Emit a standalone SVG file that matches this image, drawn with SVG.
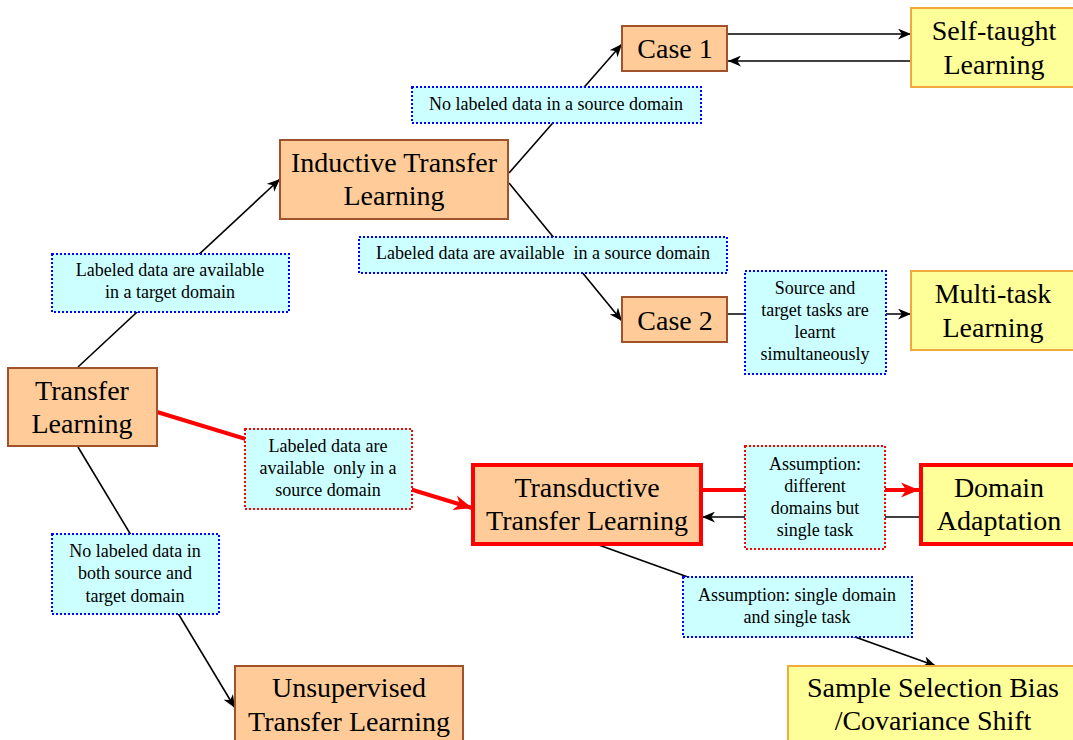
<svg xmlns="http://www.w3.org/2000/svg" width="1073" height="740" viewBox="0 0 1073 740">
<defs>
<marker id="ab" viewBox="0 0 12 10" refX="12" refY="5" markerWidth="13" markerHeight="11" markerUnits="userSpaceOnUse" orient="auto">
<path d="M0,0 L12,5 L0,10 L3.5,5 z" fill="#000"/>
</marker>
<marker id="ar" viewBox="0 0 12 10" refX="12" refY="5" markerWidth="18" markerHeight="16" markerUnits="userSpaceOnUse" orient="auto">
<path d="M0,0 L12,5 L0,10 L3.5,5 z" fill="#f00"/>
</marker>
<style>
.on{fill:#FFCC99;stroke:#A0522D;stroke-width:2}
.ye{fill:#FFFF99;stroke:#F2A93B;stroke-width:2}
.rn{stroke:#f00;stroke-width:4}
.lb{fill:#CCFFFF;stroke:#0000FF;stroke-width:2;stroke-dasharray:2 2}
.lr{fill:#CCFFFF;stroke:#FF0000;stroke-width:2;stroke-dasharray:2 2}
.nt{font-family:"Liberation Serif","Times New Roman",serif;font-size:28px;fill:#000;text-anchor:middle}
.lt{font-family:"Liberation Serif","Times New Roman",serif;font-size:18px;fill:#000;text-anchor:middle}
.cb{stroke:#000;stroke-width:1.6;fill:none}
.cr{stroke:#f00;stroke-width:4;fill:none}
</style>
</defs>
<g id="connectors">
<line class="cb" x1="78" y1="367" x2="280" y2="179" marker-end="url(#ab)"/>
<line class="cb" x1="509" y1="173" x2="622" y2="44" marker-end="url(#ab)"/>
<line class="cb" x1="509" y1="183" x2="622" y2="321" marker-end="url(#ab)"/>
<line class="cb" x1="728" y1="34" x2="911" y2="34" marker-end="url(#ab)"/>
<line class="cb" x1="911" y1="61" x2="728" y2="61" marker-end="url(#ab)"/>
<line class="cb" x1="727" y1="314" x2="911" y2="314" marker-end="url(#ab)"/>
<line class="cr" x1="157" y1="412" x2="472" y2="508" marker-end="url(#ar)"/>
<line class="cr" x1="701" y1="490" x2="919" y2="490" marker-end="url(#ar)"/>
<line class="cb" x1="920" y1="517" x2="702" y2="517" marker-end="url(#ab)"/>
<line class="cb" x1="596" y1="544" x2="936" y2="666" marker-end="url(#ab)"/>
<line class="cb" x1="78" y1="447" x2="235" y2="708" marker-end="url(#ab)"/>
</g>
<g id="transfer-learning">
<rect class="on" x="8" y="368" width="149" height="78"/>
<text class="nt" x="82" y="400">Transfer</text>
<text class="nt" x="82" y="433">Learning</text>
</g>
<g id="inductive">
<rect class="on" x="280" y="140" width="228" height="79"/>
<text class="nt" x="394" y="172">Inductive Transfer</text>
<text class="nt" x="394" y="205">Learning</text>
</g>
<g id="case1">
<rect class="on" x="622" y="26" width="105" height="45"/>
<text class="nt" x="675" y="58">Case 1</text>
</g>
<g id="self-taught">
<rect class="ye" x="911" y="8" width="170" height="79"/>
<text class="nt" x="994" y="40">Self-taught</text>
<text class="nt" x="994" y="74">Learning</text>
</g>
<g id="case2">
<rect class="on" x="622" y="297" width="105" height="45"/>
<text class="nt" x="675" y="330">Case 2</text>
</g>
<g id="multi-task">
<rect class="ye" x="911" y="271" width="170" height="79"/>
<text class="nt" x="993" y="303">Multi-task</text>
<text class="nt" x="993" y="337">Learning</text>
</g>
<g id="transductive">
<rect class="on rn" x="473" y="465" width="228" height="79" style="stroke:#f00;stroke-width:4"/>
<text class="nt" x="587" y="497">Transductive</text>
<text class="nt" x="587" y="530">Transfer Learning</text>
</g>
<g id="domain-adaptation">
<rect class="ye" x="921" y="465" width="160" height="79" style="stroke:#f00;stroke-width:4"/>
<text class="nt" x="999" y="497">Domain</text>
<text class="nt" x="999" y="530">Adaptation</text>
</g>
<g id="unsupervised">
<rect class="on" x="235" y="666" width="228" height="90"/>
<text class="nt" x="349" y="697">Unsupervised</text>
<text class="nt" x="349" y="731">Transfer Learning</text>
</g>
<g id="sample-selection">
<rect class="ye" x="788" y="666" width="300" height="90"/>
<text class="nt" x="933" y="697">Sample Selection Bias</text>
<text class="nt" x="933" y="730">/Covariance Shift</text>
</g>
<g id="label-target">
<rect class="lb" x="52" y="254" width="237" height="58"/>
<text class="lt" x="170" y="276">Labeled data are available</text>
<text class="lt" x="170" y="298">in a target domain</text>
</g>
<g id="label-no-source">
<rect class="lb" x="412" y="87" width="289" height="36"/>
<text class="lt" x="556" y="110">No labeled data in a source domain</text>
</g>
<g id="label-source">
<rect class="lb" x="359" y="237" width="368" height="36"/>
<text class="lt" x="543" y="259" xml:space="preserve">Labeled data are available  in a source domain</text>
</g>
<g id="label-simultaneous">
<rect class="lb" x="745" y="271" width="141" height="103"/>
<text class="lt" x="815" y="294">Source and</text>
<text class="lt" x="815" y="316">target tasks are</text>
<text class="lt" x="815" y="338">learnt</text>
<text class="lt" x="815" y="360">simultaneously</text>
</g>
<g id="label-only-source">
<rect class="lr" x="245" y="429" width="167" height="80"/>
<text class="lt" x="328" y="452">Labeled data are</text>
<text class="lt" x="328" y="474" xml:space="preserve">available  only in a</text>
<text class="lt" x="328" y="496">source domain</text>
</g>
<g id="label-different-domains">
<rect class="lr" x="745" y="446" width="140" height="103"/>
<text class="lt" x="815" y="470">Assumption:</text>
<text class="lt" x="815" y="492">different</text>
<text class="lt" x="815" y="514">domains but</text>
<text class="lt" x="815" y="536">single task</text>
</g>
<g id="label-single-domain">
<rect class="lb" x="683" y="577" width="229" height="60"/>
<text class="lt" x="797" y="601">Assumption: single domain</text>
<text class="lt" x="797" y="623">and single task</text>
</g>
<g id="label-no-labeled">
<rect class="lb" x="52" y="534" width="167" height="80"/>
<text class="lt" x="135" y="557">No labeled data in</text>
<text class="lt" x="135" y="579">both source and</text>
<text class="lt" x="135" y="602">target domain</text>
</g>
</svg>
